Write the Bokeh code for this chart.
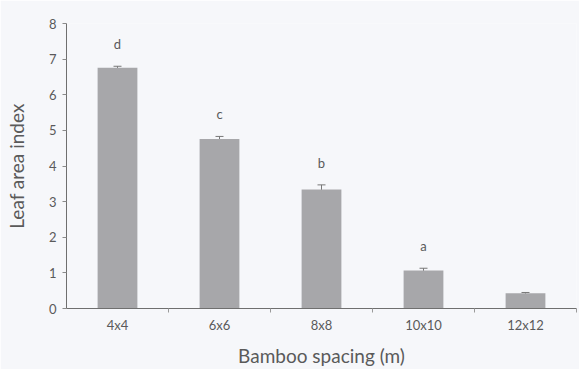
from bokeh.plotting import figure
from bokeh.models import LinearAxis, FixedTicker, ColumnDataSource, Range1d, Whisker, TeeHead
from bokeh.core.properties import value
from bokeh.embed import file_html
from bokeh.resources import INLINE

categories = ["4x4", "6x6", "8x8", "10x10", "12x12"]
lai = [6.76, 4.76, 3.34, 1.07, 0.43]
err = [0.04, 0.07, 0.13, 0.06, 0.02]
letters = ["d", "c", "b", "a", ""]
y_ticks = [0, 1, 2, 3, 4, 5, 6, 7, 8]

FONT = "Lato"
TXT = "#5a5a5a"
BG = "#f6f7fa"

centers = [i + 0.5 for i in range(len(categories))]
bounds = [i + 1 for i in range(len(categories))]
src = ColumnDataSource(dict(
    x=centers, top=lai,
    upper=[v + e for v, e in zip(lai, err)],
    lower=[v - e for v, e in zip(lai, err)],
    letter=letters,
))

p = figure(width=579, height=369, output_backend="svg", toolbar_location=None,
           x_range=Range1d(0, len(categories)), y_range=Range1d(0, 8),
           x_axis_location=None, y_axis_location=None,
           min_border_left=66, min_border_right=3, min_border_top=23, min_border_bottom=56)
p.background_fill_color = BG
p.border_fill_color = BG
p.outline_line_color = None
p.grid.grid_line_color = None

p.vbar(x="x", top="top", width=0.39, source=src, fill_color="#a7a7aa", line_color=None)
p.add_layout(Whisker(source=src, base="x", upper="upper", lower="lower",
                     line_color="#777777", line_width=1,
                     upper_head=TeeHead(size=8, line_color="#777777"), lower_head=None))
p.text(x="x", y="upper", text="letter", source=src, y_offset=-22,
       text_align="center", text_baseline="middle", text_font=value(FONT),
       text_font_size="13px", text_color=TXT)

yax = LinearAxis(ticker=FixedTicker(ticks=y_ticks), axis_label="Leaf area index")
yax.axis_line_color = "#6f6f6f"
yax.major_tick_in = 0
yax.major_tick_out = 4
yax.major_tick_line_color = "#8a8a8a"
yax.minor_tick_line_color = None
yax.major_label_standoff = 6
yax.major_label_text_font = FONT
yax.major_label_text_font_size = "13px"
yax.major_label_text_color = TXT
yax.axis_label_text_font = FONT
yax.axis_label_text_font_size = "19px"
yax.axis_label_text_font_style = "normal"
yax.axis_label_text_color = TXT
yax.axis_label_standoff = 18
p.add_layout(yax, "left")

xt = LinearAxis(ticker=FixedTicker(ticks=bounds),
                major_label_overrides={b: "" for b in bounds})
xt.axis_line_color = "#6f6f6f"
xt.major_tick_in = 0
xt.major_tick_out = 4
xt.major_tick_line_color = "#9a9a9a"
xt.minor_tick_line_color = None
xt.major_label_text_font_size = "1px"
xt.major_label_standoff = 0
p.add_layout(xt, "below")

xl = LinearAxis(ticker=FixedTicker(ticks=centers), axis_label="Bamboo spacing (m)",
                major_label_overrides={c: n for c, n in zip(centers, categories)})
xl.axis_line_color = None
xl.major_tick_line_color = None
xl.minor_tick_line_color = None
xl.major_tick_in = 0
xl.major_tick_out = 0
xl.major_label_standoff = 4
xl.major_label_text_font = FONT
xl.major_label_text_font_size = "13px"
xl.major_label_text_color = TXT
xl.axis_label_text_font = FONT
xl.axis_label_text_font_size = "19px"
xl.axis_label_text_font_style = "normal"
xl.axis_label_text_color = TXT
xl.axis_label_standoff = 8
p.add_layout(xl, "below")

open("out.html", "w").write(file_html(p, INLINE))
